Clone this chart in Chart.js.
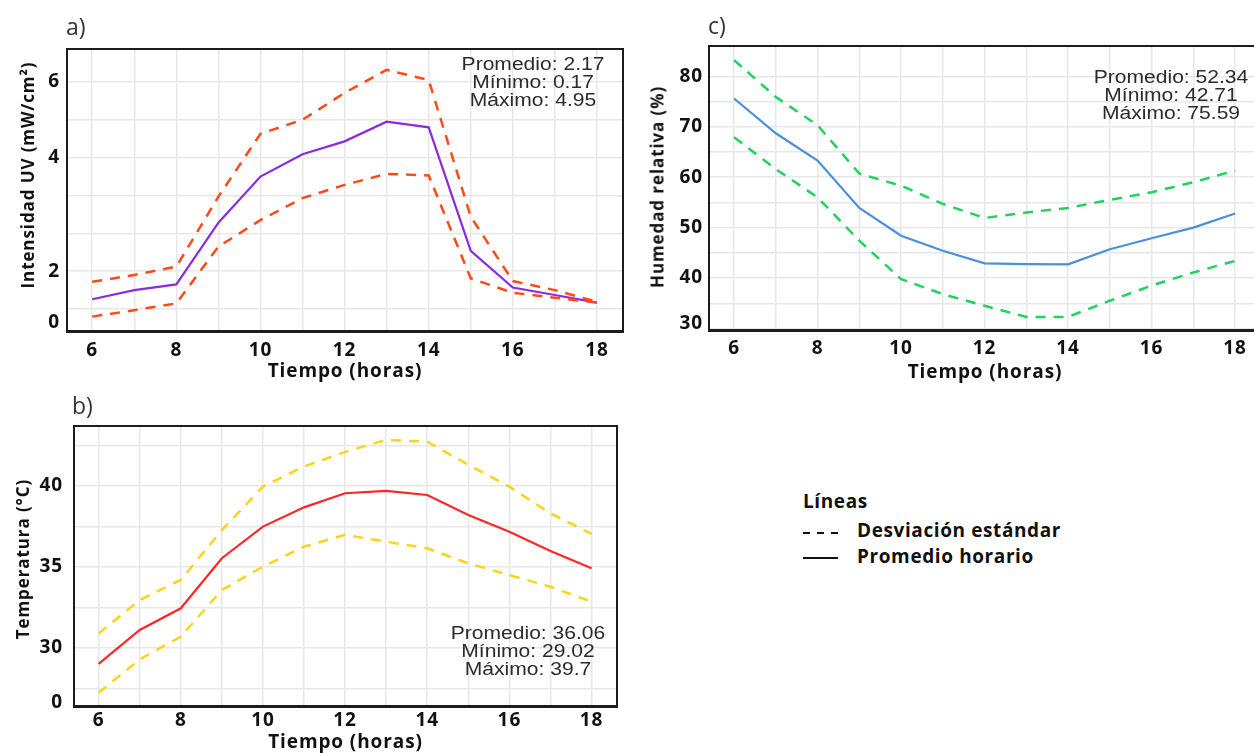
<!DOCTYPE html>
<html><head><meta charset="utf-8">
<script src="https://cdn.jsdelivr.net/npm/chart.js@4.4.1/dist/chart.umd.min.js"></script>
<style>
html,body{margin:0;padding:0;background:#fff;}
body{width:1254px;height:753px;overflow:hidden;position:relative;}
canvas{position:absolute;}
.plbl{position:absolute;font-family:"Open Sans";font-size:23px;color:#333;line-height:1;}
.stats{position:absolute;font-family:"Liberation Sans",Arial,sans-serif;font-size:18px;line-height:18px;color:#2b2b2b;text-align:center;transform:translateX(-50%) scaleX(1.17);white-space:nowrap;}
.ytitle{position:absolute;left:0;top:0;font-family:"Open Sans";font-weight:bold;font-size:17px;letter-spacing:0.9px;color:#111;white-space:nowrap;transform:translate(-50%,-50%) rotate(-90deg);}
.leg{position:absolute;font-family:"Open Sans";font-weight:bold;font-size:19px;letter-spacing:0.6px;color:#111;white-space:nowrap;line-height:1;}
.dash{position:absolute;height:2px;width:35px;background:repeating-linear-gradient(to right,#111 0 7px,transparent 7px 14px);}
.solid{position:absolute;height:2px;width:35px;background:#111;}
</style>
</head><body>
<canvas id="cA" width="640" height="390" style="left:0;top:0"></canvas>
<canvas id="cB" width="640" height="363" style="left:0;top:390px"></canvas>
<canvas id="cC" width="640" height="390" style="left:640px;top:0"></canvas>

<div class="plbl" style="left:66px;top:15px">a)</div>
<div class="plbl" style="left:72px;top:394px">b)</div>
<div class="plbl" style="left:708px;top:14px">c)</div>

<div class="ytitle" style="left:27px;top:175px">Intensidad UV (mW/cm²)</div>
<div class="ytitle" style="left:22px;top:559px">Temperatura (°C)</div>
<div class="ytitle" style="left:657px;top:187px">Humedad relativa (%)</div>

<div class="stats" style="left:533px;top:55px">Promedio: 2.17<br>Mínimo: 0.17<br>Máximo: 4.95</div>
<div class="stats" style="left:528px;top:624px">Promedio: 36.06<br>Mínimo: 29.02<br>Máximo: 39.7</div>
<div class="stats" style="left:1171px;top:68px">Promedio: 52.34<br>Mínimo: 42.71<br>Máximo: 75.59</div>

<div class="leg" style="left:803px;top:492px">Líneas</div>
<div class="dash" style="left:803px;top:532px"></div>
<div class="leg" style="left:857px;top:521px">Desviación estándar</div>
<div class="solid" style="left:803px;top:557px"></div>
<div class="leg" style="left:857px;top:547px">Promedio horario</div>

<script>
// ---- data ----
const hours = [6,7,8,9,10,11,12,13,14,15,16,17,18];
const xTickLabels = ['6','','8','','10','','12','','14','','16','','18'];

const uvMean  = [0.26,0.50,0.65,2.28,3.50,4.09,4.43,4.95,4.80,1.54,0.57,0.37,0.17];
const uvUpper = [0.72,0.90,1.12,2.97,4.63,5.00,5.71,6.32,6.05,2.44,0.74,0.50,0.19];
const uvLower = [-0.20,-0.03,0.15,1.65,2.35,2.93,3.28,3.57,3.53,0.81,0.43,0.30,0.17];
const uvGrid = [0,1,2,3,4,5,6];
const uvTickValues = [-0.37,1,4,6];
const uvTickLabels = ['0','2','4','6'];

const tempMean  = [29.02,31.11,32.45,35.54,37.49,38.68,39.55,39.70,39.44,38.21,37.18,35.99,34.92];
const tempUpper = [30.90,32.96,34.20,37.28,39.96,41.20,42.10,42.84,42.73,41.30,39.96,38.30,37.04];
const tempLower = [27.24,29.30,30.70,33.58,35.02,36.25,36.98,36.56,36.15,35.22,34.50,33.78,32.86];
const tempGrid = [27.5,30,32.5,35,37.5,40,42.5];
const tempTickValues = [26.6,30,35,40];
const tempTickLabels = ['0','30','35','40'];

const humMean  = [75.59,68.7,63.3,53.9,48.4,45.4,42.9,42.75,42.71,45.7,47.9,50.0,52.8];
const humUpper = [83.2,75.9,70.3,60.7,58.3,54.7,51.9,53.0,53.9,55.5,57.0,59.0,61.3];
const humLower = [67.9,61.6,56.0,47.4,39.8,36.8,34.5,32.3,32.3,35.5,38.5,41.1,43.4];
const humGrid = [30,35,40,45,50,55,60,65,70,75,80];
const humTickValues = [30.9,40,50,60,70,80];
const humTickLabels = ['30','40','50','60','70','80'];

// ---- helpers ----
const pts = arr => hours.map((h,i)=>({x:h,y:arr[i]}));
const GRID = '#e7e7e7';
const tickFont = {family:'Open Sans', weight:'bold', size:19};
const SPACING = '0.9px';

const spacingPlugin = {
  id:'spacing',
  beforeLayout(chart){ chart.ctx.letterSpacing = SPACING; },
  beforeDraw(chart){ chart.ctx.letterSpacing = SPACING; }
};

const framePlugin = {
  id:'frame',
  afterDatasetsDraw(chart){
    const {ctx, chartArea:a} = chart;
    ctx.save();
    ctx.strokeStyle = '#1c1c1c';
    ctx.lineWidth = 2;
    ctx.strokeRect(a.left, a.top, a.right-a.left, a.bottom-a.top);
    ctx.lineWidth = 3;
    ctx.beginPath();
    ctx.moveTo(a.left-1, a.bottom+0.5);
    ctx.lineTo(a.right+1, a.bottom+0.5);
    ctx.stroke();
    ctx.restore();
  }
};

function makeChart(id, o){
  const allY = [...new Set([...o.grid, ...o.tickValues])].sort((a,b)=>a-b);
  new Chart(document.getElementById(id), {
    type:'line',
    data:{datasets:[
      {data:pts(o.upper), borderColor:o.dashColor, borderWidth:2.5, borderDash:[10,8], pointRadius:0, tension:0, fill:false},
      {data:pts(o.lower), borderColor:o.dashColor, borderWidth:2.5, borderDash:[10,8], pointRadius:0, tension:0, fill:false},
      {data:pts(o.mean), borderColor:o.meanColor, borderWidth:2.2, pointRadius:0, tension:0, fill:false}
    ]},
    options:{
      responsive:false, animation:false,
      layout:{padding:{top:o.padTop, right:o.padRight, left:0, bottom:0}},
      plugins:{legend:{display:false}, tooltip:{enabled:false}},
      scales:{
        x:{
          type:'linear', min:5.4, max:18.62,
          afterBuildTicks: s => { s.ticks = hours.map(h=>({value:h})); },
          afterFit: s => { s.height = o.xH; },
          ticks:{autoSkip:false, maxRotation:0, padding:o.xPad, color:'#111', font:tickFont,
                 callback: v => { const i = hours.indexOf(v); return i>=0 ? xTickLabels[i] : ''; }},
          grid:{drawTicks:false, color:GRID, lineWidth:1.5},
          border:{display:false},
          title:{display:true, text:'Tiempo (horas)', color:'#111', font:{family:'Open Sans', weight:'bold', size:19}, padding:{top:0, bottom:o.xTitlePad}}
        },
        y:{
          type:'linear', min:o.yMin, max:o.yMax,
          afterBuildTicks: s => { s.ticks = allY.map(v=>({value:v})); },
          afterFit: s => { s.width = o.yW; },
          ticks:{autoSkip:false, padding:o.yPad, color:'#111', font:tickFont,
                 callback: v => { const i = o.tickValues.indexOf(v); return i>=0 ? o.tickLabels[i] : ''; }},
          grid:{drawTicks:false, lineWidth:1.5,
                color: c => (c.tick && o.grid.includes(c.tick.value)) ? GRID : 'rgba(0,0,0,0)'},
          border:{display:false}
        }
      }
    },
    plugins:[spacingPlugin, framePlugin]
  });
}

makeChart('cA', {mean:uvMean, upper:uvUpper, lower:uvLower, meanColor:'#8a2be2', dashColor:'#ff4916',
  grid:uvGrid, tickValues:uvTickValues, tickLabels:uvTickLabels, yMin:-0.58, yMax:6.87,
  padTop:49, padRight:17, yW:67, xH:59, xPad:8, yPad:7, xTitlePad:7});
makeChart('cB', {mean:tempMean, upper:tempUpper, lower:tempLower, meanColor:'#ff2626', dashColor:'#ffd21a',
  grid:tempGrid, tickValues:tempTickValues, tickLabels:tempTickLabels, yMin:26.42, yMax:43.7,
  padTop:36, padRight:23, yW:74, xH:47, xPad:3, yPad:11, xTitlePad:-1});
makeChart('cC', {mean:humMean, upper:humUpper, lower:humLower, meanColor:'#4a90d9', dashColor:'#1fd35a',
  grid:humGrid, tickValues:humTickValues, tickLabels:humTickLabels, yMin:29.7, yMax:86,
  padTop:46, padRight:19, yW:69, xH:60, xPad:7, yPad:6, xTitlePad:6});
</script>
</body></html>
